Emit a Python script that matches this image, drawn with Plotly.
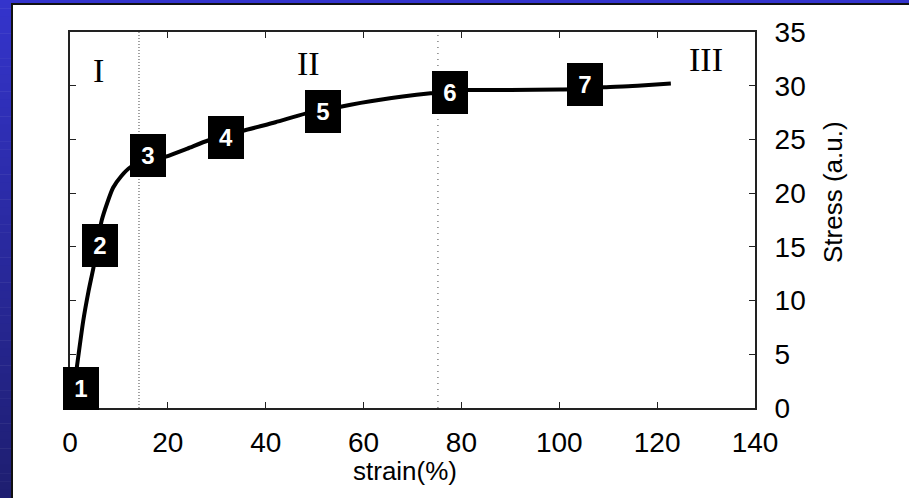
import plotly.graph_objects as go

# Stress-strain curve (strain in %, stress in arbitrary units)
strain = [0.3, 1.4, 2.7, 3.8, 4.8, 6.5, 8.8, 10.5, 12.3, 14.0, 16.0, 19.6, 24.0, 28.2,
          31.9, 35.4, 42.0, 48.1, 51.8, 55.3, 59.4, 63.4, 68.0, 73.7, 77.6, 81.2,
          90.0, 100.3, 105.3, 109.1, 116.0, 122.8]
stress = [0.0, 3.8, 8.1, 10.9, 13.1, 17.5, 20.5, 21.6, 22.4, 22.7, 22.95, 23.4, 24.15, 24.9,
          25.3, 25.8, 26.6, 27.4, 27.75, 28.05, 28.4, 28.7, 29.0, 29.3, 29.45, 29.6,
          29.6, 29.65, 29.7, 29.85, 30.0, 30.2]

# Numbered markers along the curve
marker_labels = ["1", "2", "3", "4", "5", "6", "7"]
marker_strain = [2.2, 6.2, 16.0, 31.9, 51.8, 77.6, 105.3]
marker_stress = [1.85, 15.1, 23.5, 25.15, 27.6, 29.35, 30.15]

# Deformation stages and their boundaries
stage_labels = ["I", "II", "III"]
stage_strain = [5.9, 48.7, 130.0]
stage_stress = [31.4, 32.1, 32.4]
stage_bounds = [14.1, 75.2]

x_ticks = [0, 20, 40, 60, 80, 100, 120, 140]
y_ticks = [0, 5, 10, 15, 20, 25, 30, 35]

W, H = 909, 498
ML, MR, MT, MB = 70, 154, 32, 90
PW, PH = W - ML - MR, H - MT - MB


def px_x(px):
    return (px - ML) / PW


def px_y(py):
    return (H - MB - py) / PH


FONT = "Arial, Liberation Sans, sans-serif"

fig = go.Figure()
fig.add_trace(go.Scatter(x=strain, y=stress, mode="lines",
                         line=dict(color="black", width=4, shape="spline", smoothing=0.6),
                         hoverinfo="skip", showlegend=False))

shapes = []
# slide-style gradient strips on the left and top edges
n = 60
top_c = (52, 52, 204)
bot_c = (30, 30, 112)
for i in range(n):
    t = (i + 0.5) / n
    c = tuple(round(a + (b - a) * t) for a, b in zip(top_c, bot_c))
    shapes.append(dict(type="rect", xref="paper", yref="paper",
                       x0=px_x(0), x1=px_x(12), y0=px_y(H * i / n), y1=px_y(H * (i + 1) / n + 0.5),
                       fillcolor="rgb(%d,%d,%d)" % c, line=dict(width=0), layer="above"))
shapes.append(dict(type="rect", xref="paper", yref="paper",
                   x0=px_x(0), x1=px_x(W), y0=px_y(0), y1=px_y(4),
                   fillcolor="rgb(%d,%d,%d)" % top_c, line=dict(width=0), layer="above"))
shapes.append(dict(type="line", xref="paper", yref="paper",
                   x0=px_x(12), x1=px_x(12), y0=px_y(4), y1=px_y(H),
                   line=dict(color="#111111", width=2), layer="above"))
shapes.append(dict(type="line", xref="paper", yref="paper",
                   x0=px_x(11), x1=px_x(W), y0=px_y(4), y1=px_y(4),
                   line=dict(color="#111111", width=2), layer="above"))

# stage boundaries
for xb, dash in zip(stage_bounds, ["1px,2px", "1px,5px"]):
    shapes.append(dict(type="line", xref="x", yref="y", x0=xb, x1=xb, y0=0, y1=35,
                       line=dict(color="#444444", width=1, dash=dash), layer="below"))

annotations = []
for lab, xs, ys in zip(marker_labels, marker_strain, marker_stress):
    annotations.append(dict(x=xs, y=ys, xref="x", yref="y", text="<b>%s</b>" % lab,
                            showarrow=False, width=36, height=43, borderpad=0, borderwidth=0,
                            bgcolor="black", font=dict(family=FONT, size=24, color="white"),
                            xanchor="center", yanchor="middle", align="center", valign="middle"))
for lab, xs, ys in zip(stage_labels, stage_strain, stage_stress):
    annotations.append(dict(x=xs, y=ys, xref="x", yref="y", text=lab, showarrow=False,
                            font=dict(family="Times New Roman, Liberation Serif, serif", size=34,
                                      color="black"),
                            xanchor="center", yanchor="middle"))
annotations.append(dict(x=px_x(405), y=px_y(471), xref="paper", yref="paper", text="strain(%)",
                        showarrow=False, font=dict(family=FONT, size=26, color="black"),
                        xanchor="center", yanchor="middle"))
annotations.append(dict(x=px_x(833), y=px_y(192), xref="paper", yref="paper", text="Stress (a.u.)",
                        showarrow=False, textangle=-90, font=dict(family=FONT, size=26, color="black"),
                        xanchor="center", yanchor="middle"))

axis_common = dict(showgrid=False, zeroline=False, showline=True, linecolor="#222222", linewidth=2,
                   ticks="inside", ticklen=6, tickwidth=1, tickcolor="#222222", mirror="ticks",
                   tickfont=dict(family=FONT, size=28, color="black"))

fig.update_layout(
    width=W, height=H,
    margin=dict(l=ML, r=MR, t=MT, b=MB),
    paper_bgcolor="white", plot_bgcolor="white",
    xaxis=dict(range=[0, 140], tickvals=x_ticks, ticklabelstandoff=8, **axis_common),
    yaxis=dict(range=[0, 35], tickvals=y_ticks, side="right", ticklabelstandoff=12, **axis_common),
    shapes=shapes, annotations=annotations, showlegend=False,
)

fig.write_html("out.html")
